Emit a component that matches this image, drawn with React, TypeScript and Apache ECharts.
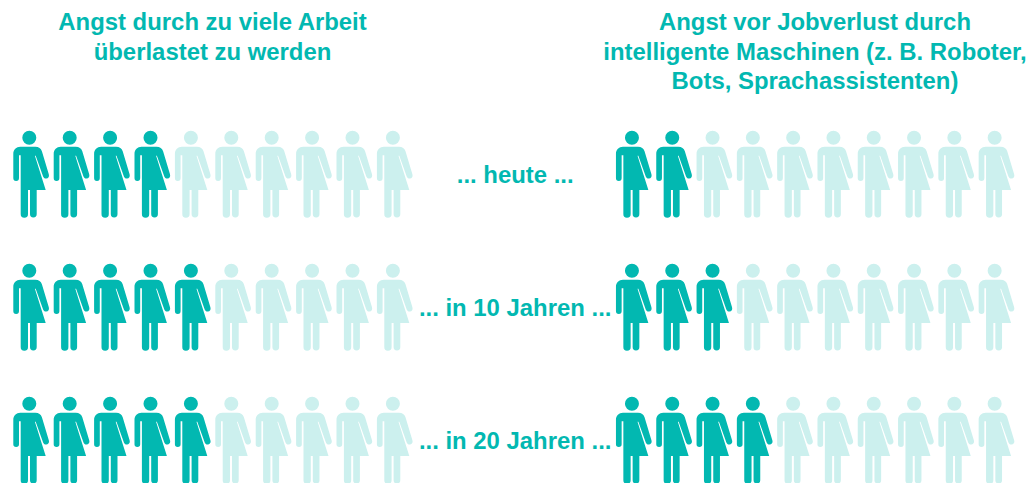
import React, { useEffect, useRef } from "react";
import * as echarts from "echarts";

const positions = ["1", "2", "3", "4", "5", "6", "7", "8", "9", "10"];
const periods = ["... heute ...", "... in 10 Jahren ...", "... in 20 Jahren ..."];
const leftTitle = "Angst durch zu viele Arbeit\nüberlastet zu werden";
const rightTitle = "Angst vor Jobverlust durch\nintelligente Maschinen (z. B. Roboter,\nBots, Sprachassistenten)";
const overworkFilled = [4, 5, 5];
const jobLossFilled = [2, 3, 4];

const DARK = "#02B8B1";
const LIGHT = "#CCF0EE";
const FONT = "'Liberation Sans', Arial, sans-serif";

const PERSON =
  "path://M23 7a7 7 0 1 1-14 0a7 7 0 1 1 14 0z" +
  "M7 16H22C25.5 16 27.6 17.5 28.6 20.5L35.5 43.5C36.2 46 35 47.6 33 47.9C31.5 48.1 30.3 47.2 29.8 45.8L22.4 25L21.6 25L32.4 59.3H23.4V83.4a3.35 3.35 0 0 1-6.7 0V59.3H14.7V83.4a3.65 3.65 0 0 1-7.3 0V24.5H5.7V47.4a2.85 2.85 0 0 1-5.7 0V23C0 19 3 16 7 16Z";

function cells(filled: number[], wantFilled: boolean) {
  const out: [string, string][] = [];
  periods.forEach((p, r) => {
    positions.forEach((c, i) => {
      if (i < filled[r] === wantFilled) out.push([c, p]);
    });
  });
  return out;
}

function people(index: number, filled: number[], wantFilled: boolean) {
  return {
    type: "scatter",
    xAxisIndex: index,
    yAxisIndex: index,
    symbol: PERSON,
    symbolSize: [35.7, 87],
    silent: true,
    itemStyle: { color: wantFilled ? DARK : LIGHT, opacity: 1 },
    data: cells(filled, wantFilled),
  };
}

export default function App() {
  const ref = useRef<HTMLDivElement>(null);
  useEffect(() => {
    const chart = echarts.init(ref.current!, null, { renderer: "svg" });
    const titleStyle = { color: DARK, fontFamily: FONT, fontWeight: "bold", fontSize: 23.9, lineHeight: 29.5 };
    chart.setOption({
      animation: false,
      backgroundColor: "#fff",
      title: [
        { text: leftTitle, left: 212.5, top: 7, padding: 0, textAlign: "center", textStyle: titleStyle },
        { text: rightTitle, left: 815, top: 7, padding: 0, textAlign: "center", textStyle: titleStyle },
      ],
      grid: [
        { left: 10.95, top: 107.7, width: 404, height: 399, outerBoundsMode: "none" },
        { left: 613.65, top: 107.7, width: 403, height: 399, outerBoundsMode: "none" },
      ],
      xAxis: [0, 1].map((gridIndex) => ({ type: "category", gridIndex, data: positions, show: false })),
      yAxis: [
        { type: "category", gridIndex: 0, data: periods, inverse: true, show: false },
        {
          type: "category",
          gridIndex: 1,
          data: periods,
          inverse: true,
          axisLine: { show: false },
          axisTick: { show: false },
          axisLabel: {
            color: DARK,
            fontFamily: FONT,
            fontWeight: "bold",
            fontSize: 23.9,
            align: "center",
            margin: 98.5,
          },
        },
      ],
      series: [
        people(0, overworkFilled, true),
        people(0, overworkFilled, false),
        people(1, jobLossFilled, true),
        people(1, jobLossFilled, false),
      ],
    });
    return () => chart.dispose();
  }, []);
  return <div ref={ref} style={{ position: "absolute", left: 0, top: 0, width: 1029, height: 483 }} />;
}
